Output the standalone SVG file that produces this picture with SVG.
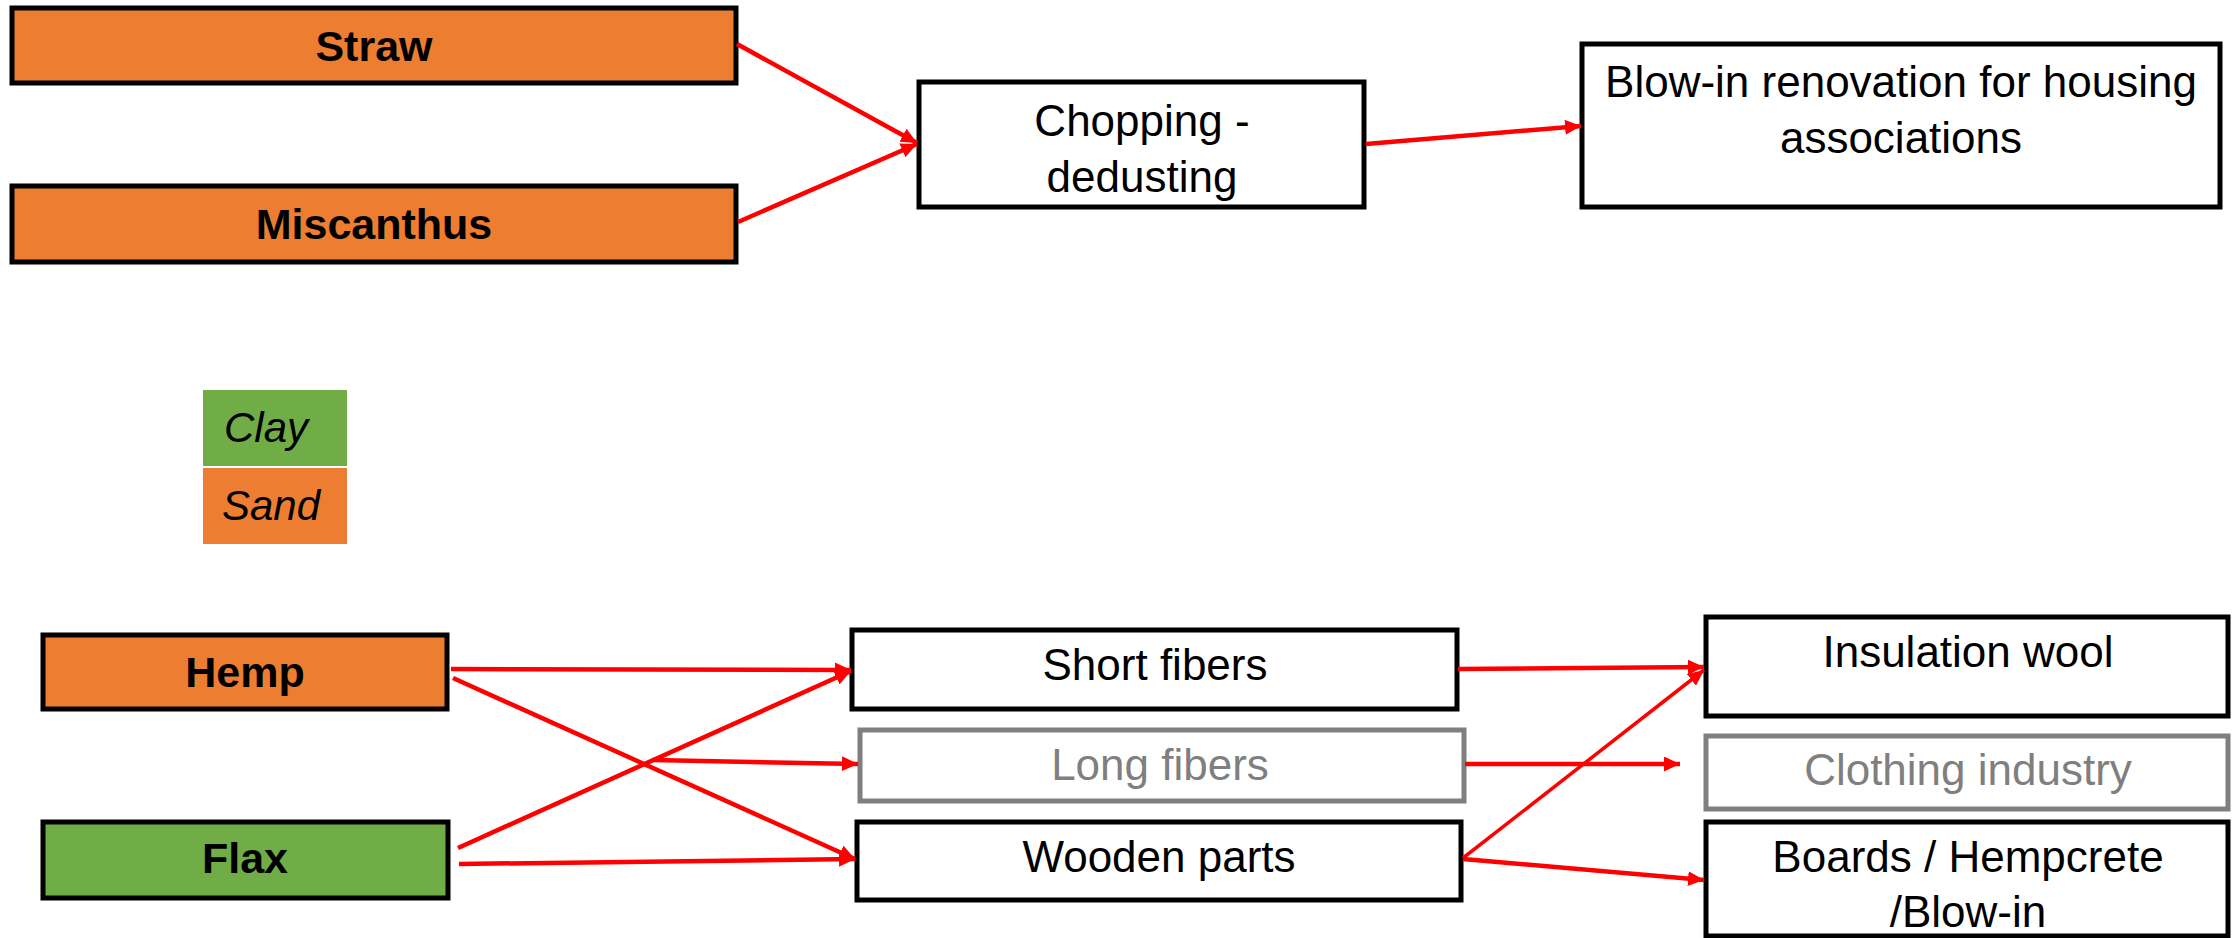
<svg xmlns="http://www.w3.org/2000/svg" width="2233" height="938" viewBox="0 0 2233 938">
<style>
.box{fill:#ffffff;stroke:#000000;stroke-width:5}
.gbox{fill:#ffffff;stroke:#7f7f7f;stroke-width:5}
.org{fill:#ED7D31;stroke:#000000;stroke-width:5}
.grn{fill:#70AD47;stroke:#000000;stroke-width:5}
.t{font-family:"Liberation Sans",Arial,sans-serif;font-size:44px;fill:#000000;text-anchor:middle}
.b{font-weight:bold;font-size:43px}
.g{fill:#7f7f7f}
.it{font-family:"Liberation Sans",Arial,sans-serif;font-size:42px;font-style:italic;fill:#000000}
.c{stroke:#ff0000;stroke-width:4.5;fill:none}
</style>
<defs>
<marker id="ah" markerUnits="userSpaceOnUse" markerWidth="18" markerHeight="16" refX="16" refY="7.5" orient="auto">
<path d="M0,0 L16,7.5 L0,15 z" fill="#ff0000"/>
</marker>
</defs>
<rect width="2233" height="938" fill="#ffffff"/>

<g id="straw"><rect class="org" x="12" y="8" width="724" height="75"/><text class="t b" x="374" y="61">Straw</text></g>
<g id="miscanthus"><rect class="org" x="12" y="186" width="724" height="76"/><text class="t b" x="374" y="239">Miscanthus</text></g>
<g id="chopping"><rect class="box" x="919" y="82" width="445" height="125"/><text class="t" x="1142" y="136">Chopping -</text><text class="t" x="1142" y="192">dedusting</text></g>
<g id="blowin"><rect class="box" x="1582" y="44" width="638" height="163"/><text class="t" x="1901" y="97">Blow-in renovation for housing</text><text class="t" x="1901" y="153">associations</text></g>

<g id="legend-clay"><rect x="203" y="390" width="144" height="76" fill="#70AD47"/><text class="it" x="224" y="442">Clay</text></g>
<g id="legend-sand"><rect x="203" y="468" width="144" height="76" fill="#ED7D31"/><text class="it" x="222" y="520">Sand</text></g>

<g id="hemp"><rect class="org" x="43" y="635" width="404" height="74"/><text class="t b" x="245" y="687">Hemp</text></g>
<g id="flax"><rect class="grn" x="43" y="822" width="405" height="76"/><text class="t b" x="245" y="873">Flax</text></g>
<g id="short"><rect class="box" x="852" y="630" width="605" height="79"/><text class="t" x="1155" y="680">Short fibers</text></g>
<g id="long"><rect class="gbox" x="860" y="730" width="604" height="71"/><text class="t g" x="1160" y="780">Long fibers</text></g>
<g id="wooden"><rect class="box" x="857" y="822" width="604" height="78"/><text class="t" x="1159" y="872">Wooden parts</text></g>
<g id="insulation"><rect class="box" x="1706" y="617" width="522" height="99"/><text class="t" x="1968" y="667">Insulation wool</text></g>
<g id="clothing"><rect class="gbox" x="1706" y="736" width="522" height="73"/><text class="t g" x="1968" y="785">Clothing industry</text></g>
<g id="boards"><rect class="box" x="1706" y="822" width="522" height="114"/><text class="t" x="1968" y="872">Boards / Hempcrete</text><text class="t" x="1968" y="927">/Blow-in</text></g>

<g id="connectors">
<line class="c" x1="737" y1="44" x2="917" y2="143" marker-end="url(#ah)"/>
<line class="c" x1="738" y1="222" x2="917" y2="144" marker-end="url(#ah)"/>
<line class="c" x1="1366" y1="144" x2="1581" y2="126" marker-end="url(#ah)"/>
<line class="c" x1="451" y1="669" x2="851" y2="670" marker-end="url(#ah)"/>
<line class="c" x1="453" y1="678" x2="855" y2="859" marker-end="url(#ah)"/>
<line class="c" x1="458" y1="848" x2="851" y2="671" marker-end="url(#ah)"/>
<line class="c" x1="459" y1="864" x2="855" y2="859" marker-end="url(#ah)"/>
<line class="c" x1="652" y1="760" x2="858" y2="764" marker-end="url(#ah)"/>
<line class="c" x1="1458" y1="669" x2="1704" y2="667" marker-end="url(#ah)"/>
<line class="c" x1="1465" y1="764" x2="1680" y2="764" marker-end="url(#ah)"/>
<line class="c" x1="1463" y1="858" x2="1704" y2="670" marker-end="url(#ah)" style="stroke-width:3.5"/>
<line class="c" x1="1463" y1="859" x2="1704" y2="880" marker-end="url(#ah)"/>
</g>
</svg>
